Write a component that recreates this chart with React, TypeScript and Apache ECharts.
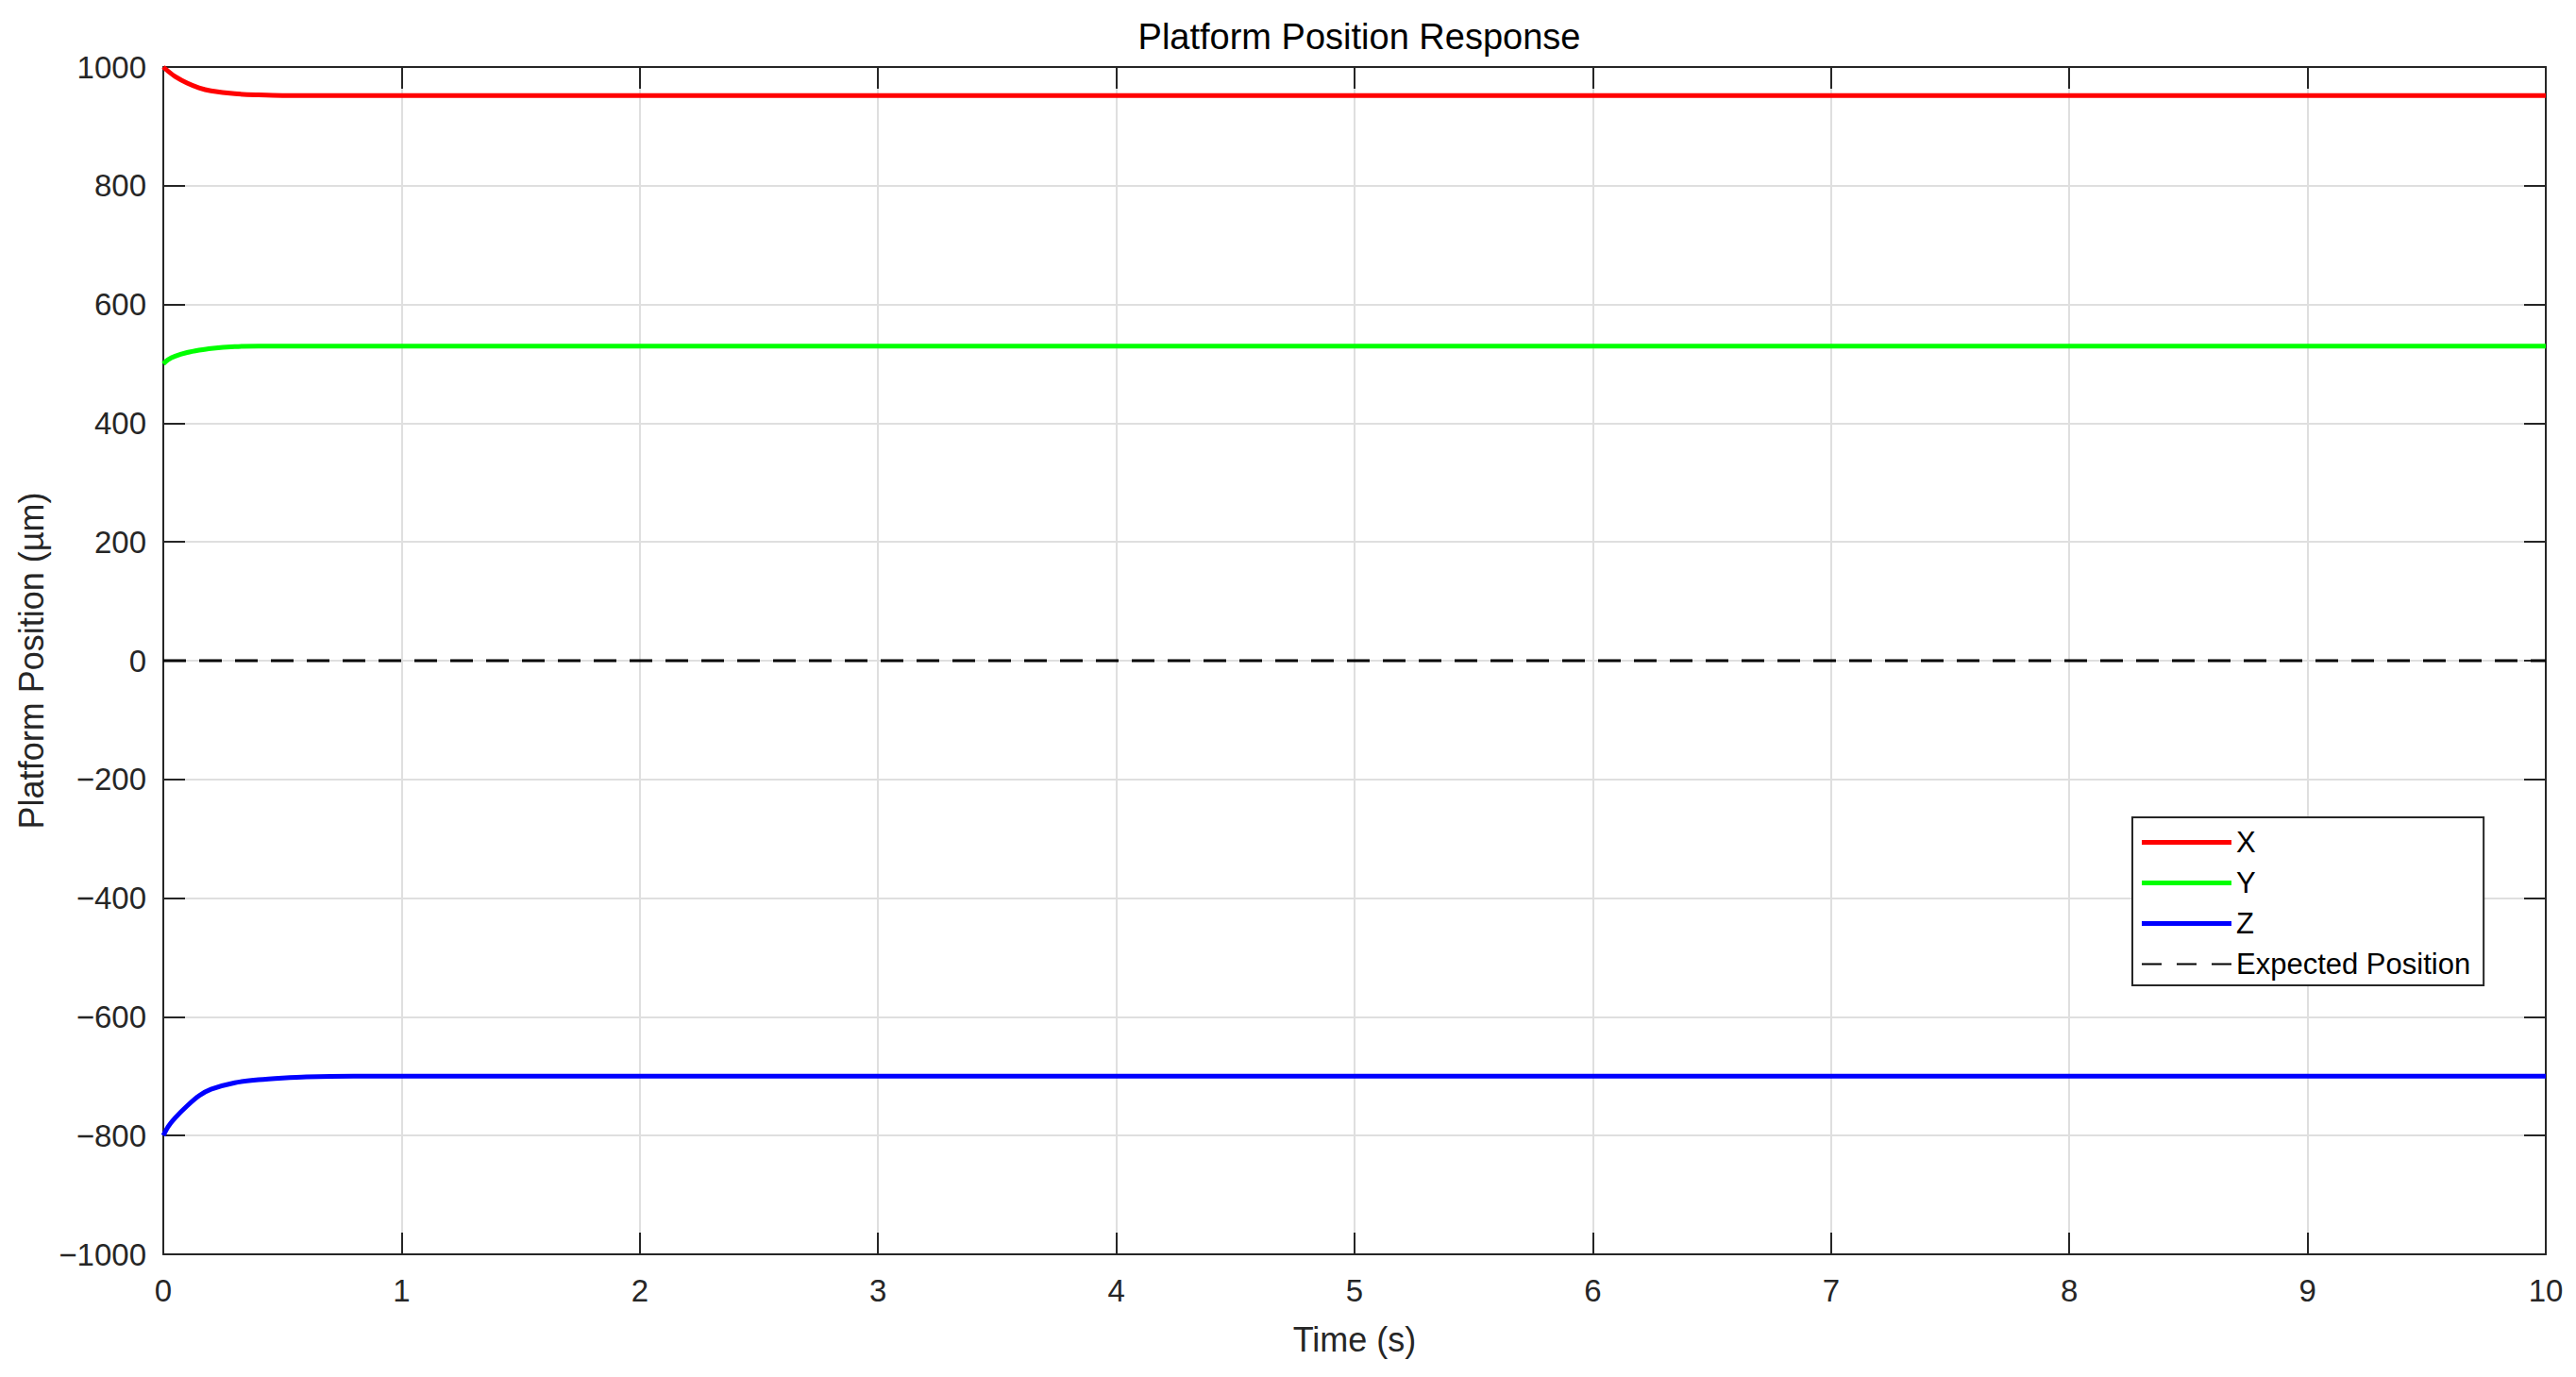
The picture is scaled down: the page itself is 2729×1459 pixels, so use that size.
import React, { useEffect, useRef } from "react";
import * as echarts from "echarts";

const timeS = [0, 0.02, 0.05, 0.1, 0.15, 0.2, 0.3, 0.4, 0.5, 0.6, 0.8, 1, 2, 3, 4, 5, 6, 7, 8, 9, 10];
const xPos = [1000, 993, 984, 973, 965, 960, 955, 953, 952, 952, 952, 952, 952, 952, 952, 952, 952, 952, 952, 952, 952];
const yPos = [500, 507, 513, 519, 523, 526, 529, 530, 530, 530, 530, 530, 530, 530, 530, 530, 530, 530, 530, 530, 530];
const zPos = [-800, -785, -770, -750, -733, -722, -711, -706, -703, -701, -700, -700, -700, -700, -700, -700, -700, -700, -700, -700, -700];
const expectedTime = [0, 10];
const expectedPos = [0, 0];

const seriesNames = ["X", "Y", "Z", "Expected Position"];
const titleText = "Platform Position Response";
const xAxisName = "Time (s)";
const yAxisName = "Platform Position (\u00b5m)";

const FONT = "Liberation Sans, Arial, Helvetica, sans-serif";
const INK = "#262626";
const DASH_ICON = "path://M0,-1h0.01v0.01h-0.01z M0,1h21v3h-21z M37,1h21v3h-21z M74,1h21v3h-21z M94.99,5.99h0.01v0.01h-0.01z";

const pairs = (xs: number[], ys: number[]) => xs.map((x, i) => [x, ys[i]]);

export default function App() {
  const ref = useRef<HTMLDivElement>(null);
  useEffect(() => {
    if (!ref.current) return;
    const chart = echarts.init(ref.current, null, { renderer: "svg" });
    const axisLine = { show: true, onZero: false, lineStyle: { color: INK, width: 2 } };
    const axisTick = { show: true, inside: true, length: 23, lineStyle: { color: INK, width: 2 } };
    const splitLine = { show: true, lineStyle: { color: "#dfdfdf", width: 2 } };
    chart.setOption({
      animation: false,
      backgroundColor: "#ffffff",
      textStyle: { fontFamily: FONT },
      title: {
        text: titleText,
        left: 1435,
        textAlign: "center",
        top: 15,
        textStyle: { fontFamily: FONT, fontSize: 38, fontWeight: "normal", color: "#000000" },
      },
      grid: { left: 173, right: 32, top: 71, bottom: 130, containLabel: false },
      legend: {
        orient: "vertical",
        left: 2259,
        top: 866,
        data: seriesNames.map((n, i) =>
          i < 3 ? { name: n, icon: "rect" } : { name: n, icon: DASH_ICON }
        ),
        itemWidth: 95,
        itemHeight: 5,
        itemGap: 12,
        itemTextGap: 8,
        symbolKeepAspect: false,
        padding: [11, 14, 7, 10],
        borderColor: INK,
        borderWidth: 2,
        backgroundColor: "#ffffff",
        textStyle: { fontFamily: FONT, fontSize: 31, color: "#000000", lineHeight: 30 },
      },
      xAxis: [
        {
          type: "value",
          min: 0,
          max: 10,
          interval: 1,
          position: "bottom",
          name: xAxisName,
          nameLocation: "middle",
          nameGap: 72,
          nameTextStyle: { fontFamily: FONT, fontSize: 36, color: INK },
          axisLine,
          axisTick,
          splitLine,
          axisLabel: { fontFamily: FONT, fontSize: 33, color: INK, margin: 22 },
        },
        {
          type: "value",
          min: 0,
          max: 10,
          interval: 1,
          position: "top",
          axisLine,
          axisTick,
          splitLine: { show: false },
          axisLabel: { show: false },
        },
      ],
      yAxis: [
        {
          type: "value",
          min: -1000,
          max: 1000,
          interval: 200,
          position: "left",
          name: yAxisName,
          nameLocation: "middle",
          nameGap: 116,
          nameTextStyle: { fontFamily: FONT, fontSize: 36, color: INK },
          axisLine,
          axisTick,
          splitLine,
          axisLabel: {
            fontFamily: FONT,
            fontSize: 33,
            color: INK,
            margin: 18,
            formatter: (v: number) => String(v).replace("-", "\u2212"),
          },
        },
        {
          type: "value",
          min: -1000,
          max: 1000,
          interval: 200,
          position: "right",
          axisLine,
          axisTick,
          splitLine: { show: false },
          axisLabel: { show: false },
        },
      ],
      series: [
        {
          name: "Expected Position",
          type: "line",
          data: pairs(expectedTime, expectedPos),
          symbol: "none",
          z: 2,
          lineStyle: { color: "#000000", width: 3, type: [24, 14] },
          itemStyle: { color: "#000000" },
        },
        {
          name: "X",
          type: "line",
          data: pairs(timeS, xPos),
          symbol: "none",
          smooth: 0.3,
          z: 3,
          lineStyle: { color: "#ff0000", width: 5 },
          itemStyle: { color: "#ff0000" },
        },
        {
          name: "Y",
          type: "line",
          data: pairs(timeS, yPos),
          symbol: "none",
          smooth: 0.3,
          z: 3,
          lineStyle: { color: "#00ff00", width: 5 },
          itemStyle: { color: "#00ff00" },
        },
        {
          name: "Z",
          type: "line",
          data: pairs(timeS, zPos),
          symbol: "none",
          smooth: 0.3,
          z: 3,
          lineStyle: { color: "#0000ff", width: 5 },
          itemStyle: { color: "#0000ff" },
        },
      ],
    });
    return () => chart.dispose();
  }, []);
  return (
    <div
      ref={ref}
      style={{ position: "fixed", left: 0, top: 0, width: 2729, height: 1459, background: "#fff" }}
    />
  );
}
